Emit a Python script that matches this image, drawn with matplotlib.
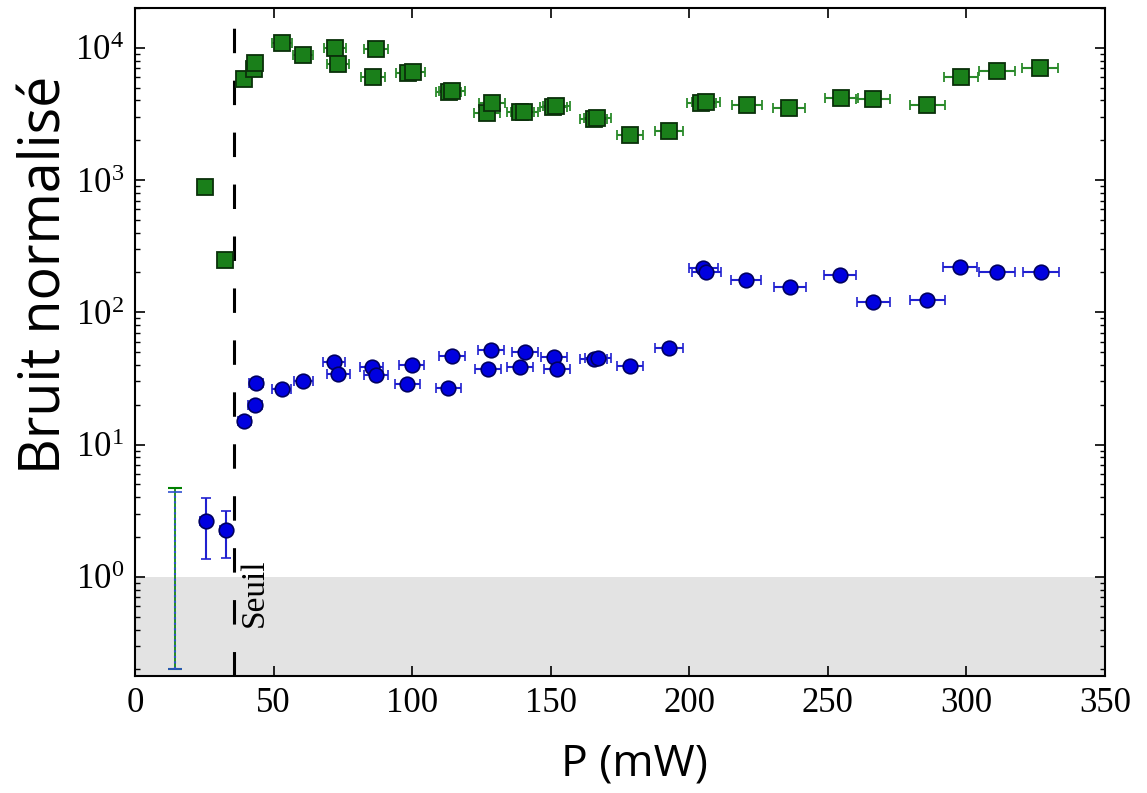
import numpy as np
import matplotlib
matplotlib.use("Agg")
import matplotlib.pyplot as plt

# Bruit normalisé en fonction de la puissance P (mW)

# carrés verts
green_p = [25.3, 32.5, 39.3, 42.9, 43.3, 53.0, 60.6, 72.2, 73.3, 85.9, 87.0, 98.5, 100.3,
           113.2, 114.3, 127.0, 128.8, 139.0, 140.5, 151.0, 152.0, 165.5, 166.8, 178.6,
           192.7, 204.3, 206.0, 220.9, 236.0, 254.8, 266.3, 285.8, 298.0, 311.0, 326.6]
green_b = [887, 249, 5810, 6920, 7680, 10870, 8830, 9960, 7550, 6010, 9790, 6400, 6500,
           4600, 4680, 3215, 3830, 3250, 3290, 3550, 3600, 2870, 2930, 2190,
           2350, 3800, 3860, 3700, 3510, 4180, 4100, 3700, 6010, 6680, 7030]
green_xerr = [1.5, 1.5, 2.5, 2.5, 2.5, 3.5, 3.5, 4.0, 4.0, 4.2, 4.2, 4.5, 4.5,
              4.6, 4.6, 4.7, 4.7, 4.8, 4.8, 4.8, 4.8, 4.8, 4.8, 4.8,
              5.0, 5.2, 5.2, 5.4, 5.8, 5.9, 6.0, 6.3, 6.1, 6.6, 6.6]

# ronds bleus
blue_p = [25.6, 32.7, 39.5, 43.3, 43.7, 52.9, 60.7, 71.8, 73.4, 85.4, 87.0, 98.3, 99.8,
          113.1, 114.3, 127.5, 128.5, 138.9, 140.7, 151.2, 152.2, 165.5, 167.0, 178.6,
          192.8, 205.1, 206.1, 220.5, 236.4, 254.4, 266.4, 285.9, 297.7, 311.0, 326.9]
blue_b = [2.65, 2.27, 15.1, 20.0, 29.3, 26.4, 30.5, 42.4, 34.0, 38.9, 33.6, 28.6, 40.0,
          27.0, 46.8, 37.1, 52.0, 38.9, 49.9, 46.3, 37.1, 44.0, 44.8, 39.3,
          54.1, 215, 203, 174, 155, 192, 120, 123, 219, 201, 201]
blue_yerr = [1.28, 0.88] + [0.0] * 33
blue_xerr = [2.0, 2.0, 2.5, 2.5, 2.5, 3.5, 3.5, 4.0, 4.0, 4.2, 4.2, 4.5, 4.5,
             4.6, 4.6, 4.7, 4.7, 4.8, 4.8, 4.8, 4.8, 4.8, 4.8, 4.8,
             5.0, 5.2, 5.2, 5.4, 5.8, 5.9, 6.0, 6.3, 6.1, 6.6, 6.6]

# point isolé sans marqueur (barres seules)
iso_p = 14.4
iso_green, iso_green_err = 2.45, 2.25
iso_blue, iso_blue_err = 2.3, 2.1

seuil = 35.7

plt.rcParams['font.family'] = 'Liberation Serif'
plt.rcParams['mathtext.fontset'] = 'stix'

fig = plt.figure(figsize=(11.47, 7.93), dpi=100)
ax = fig.add_axes([0.1177, 0.1475, 0.8457, 0.8425])

ax.axhspan(1e-3, 1.0, color='#e3e3e3', zorder=0, lw=0)
ax.axvline(seuil, color='black', lw=2.2, linestyle=(0, (8, 9)), zorder=1)
ax.text(seuil + 2.0, 0.42, 'Seuil', rotation=90, ha='left', va='bottom',
        fontsize=24, family='Liberation Serif')

# barres isolées
ax.errorbar([iso_p], [iso_green], yerr=[iso_green_err], fmt='none', ecolor='green',
            elinewidth=1.2, capsize=5, capthick=1.5, zorder=2)
eb = ax.errorbar([iso_p], [iso_blue], yerr=[iso_blue_err], fmt='none', ecolor='#3050d0',
                 elinewidth=1.5, capsize=5, capthick=1.2, zorder=3)
eb[2][0].set_linestyle(':')

ax.errorbar(green_p, green_b, xerr=green_xerr, fmt='s', color='#1a7f1a', mec='#0a300a',
            mew=1.3, ms=12, ecolor='#2a8a2a', elinewidth=1.5, capsize=3.5, capthick=1.5,
            zorder=4)
ax.errorbar(blue_p, blue_b, xerr=blue_xerr, yerr=blue_yerr, fmt='o', color='#0000e0',
            mec='#000060', mew=1.2, ms=10.5, ecolor='#2020d0', elinewidth=1.5,
            capsize=3.5, capthick=1.5, zorder=5)

ax.set_yscale('log')
ax.set_xlim(0, 350)
ax.set_ylim(0.178, 2.0e4)
ax.set_xticks([0, 50, 100, 150, 200, 250, 300, 350])

ax.tick_params(which='both', direction='in', top=True, right=True, labelsize=25)
ax.tick_params(which='major', length=7, width=1.2, pad=8)
ax.tick_params(which='minor', length=3.5, width=1.0)
ax.tick_params(axis='x', which='minor', bottom=False, top=False)
for s in ax.spines.values():
    s.set_linewidth(1.5)

ax.set_xlabel('P (mW)', family='Open Sans', fontsize=32)
ax.set_ylabel('Bruit normalisé', family='Open Sans', fontsize=40)
ax.xaxis.set_label_coords(0.515, -0.098)
ax.yaxis.set_label_coords(-0.062, 0.60)

plt.savefig('out.png', dpi=100)
